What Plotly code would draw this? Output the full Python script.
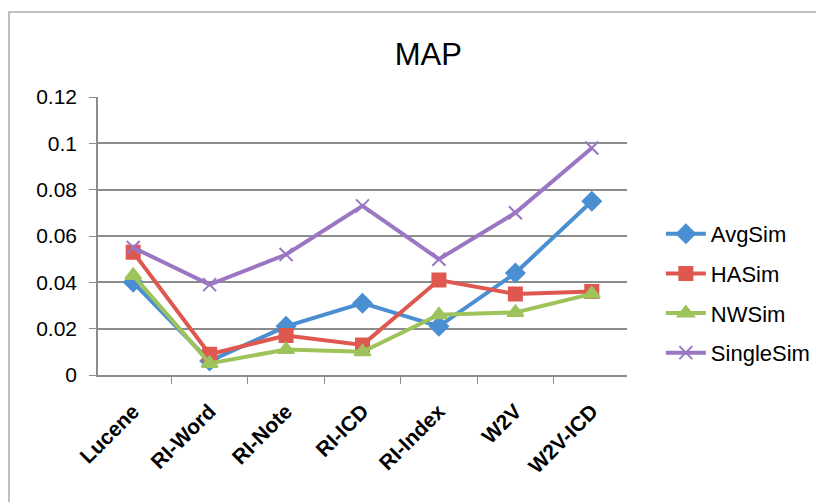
import plotly.graph_objects as go

categories = ["Lucene", "RI-Word", "RI-Note", "RI-ICD", "RI-Index", "W2V", "W2V-ICD"]
avg_sim = [0.040, 0.006, 0.021, 0.031, 0.021, 0.044, 0.075]
ha_sim = [0.053, 0.009, 0.017, 0.013, 0.041, 0.035, 0.036]
nw_sim = [0.043, 0.005, 0.011, 0.010, 0.026, 0.027, 0.035]
single_sim = [0.055, 0.039, 0.052, 0.073, 0.050, 0.070, 0.098]
y_ticks = [0, 0.02, 0.04, 0.06, 0.08, 0.1, 0.12]
y_tick_labels = ["0", "0.02", "0.04", "0.06", "0.08", "0.1", "0.12"]

series = [
    ("AvgSim", avg_sim, "#4A8FD2", "diamond", 14),
    ("HASim", ha_sim, "#DE5850", "square", 13),
    ("NWSim", nw_sim, "#9DC35A", "triangle-up", 14),
    ("SingleSim", single_sim, "#9B76C2", "x-thin", 13),
]

FONT = "Liberation Sans, Arial, sans-serif"

fig = go.Figure()
for name, vals, color, sym, size in series:
    fig.add_trace(go.Scatter(
        x=categories, y=vals, name=name, mode="lines+markers", legendgroup=name,
        line=dict(color=color, width=4),
        marker=dict(symbol=sym, size=size, color=color,
                    line=dict(color=color, width=2)),
    ))

fig.update_layout(
    width=824, height=502,
    margin=dict(l=90, r=205, t=89, b=135),
    paper_bgcolor="white", plot_bgcolor="white",
    font=dict(family=FONT, color="#000000"),
    title=dict(text="MAP", x=0.51, xanchor="center", y=0.908, yanchor="middle",
               font=dict(size=31, color="#000000")),
    legend=dict(x=1.064, y=0.293, xanchor="left", yanchor="middle",
                font=dict(size=22), tracegroupgap=8, itemwidth=40),
    showlegend=True,
)
fig.update_xaxes(
    type="category", showgrid=False, showline=True, linecolor="#8C8C8C", linewidth=1.5,
    ticks="outside", tickson="boundaries", ticklen=7, tickcolor="#8C8C8C",
    tickangle=-45, tickfont=dict(size=21, family=FONT), ticklabelstandoff=14,
    ticktext=[f"<b>{c}</b>" for c in categories], tickvals=categories,
)
fig.update_yaxes(
    range=[0, 0.12], tickvals=y_ticks, ticktext=y_tick_labels,
    showgrid=True, gridcolor="#8C8C8C", gridwidth=1.5,
    showline=True, linecolor="#8C8C8C", linewidth=1.5,
    ticks="outside", ticklen=7, tickcolor="#8C8C8C",
    tickfont=dict(size=21), zeroline=False, ticklabelstandoff=8,
)
fig.add_shape(type="rect", xref="paper", yref="paper",
              x0=(1 - 90) / 529, x1=1.6, y0=-0.8, y1=(367 - 4) / 278,
              line=dict(width=1.5, color="#ABABAB"), layer="below")
fig.write_html("out.html")
